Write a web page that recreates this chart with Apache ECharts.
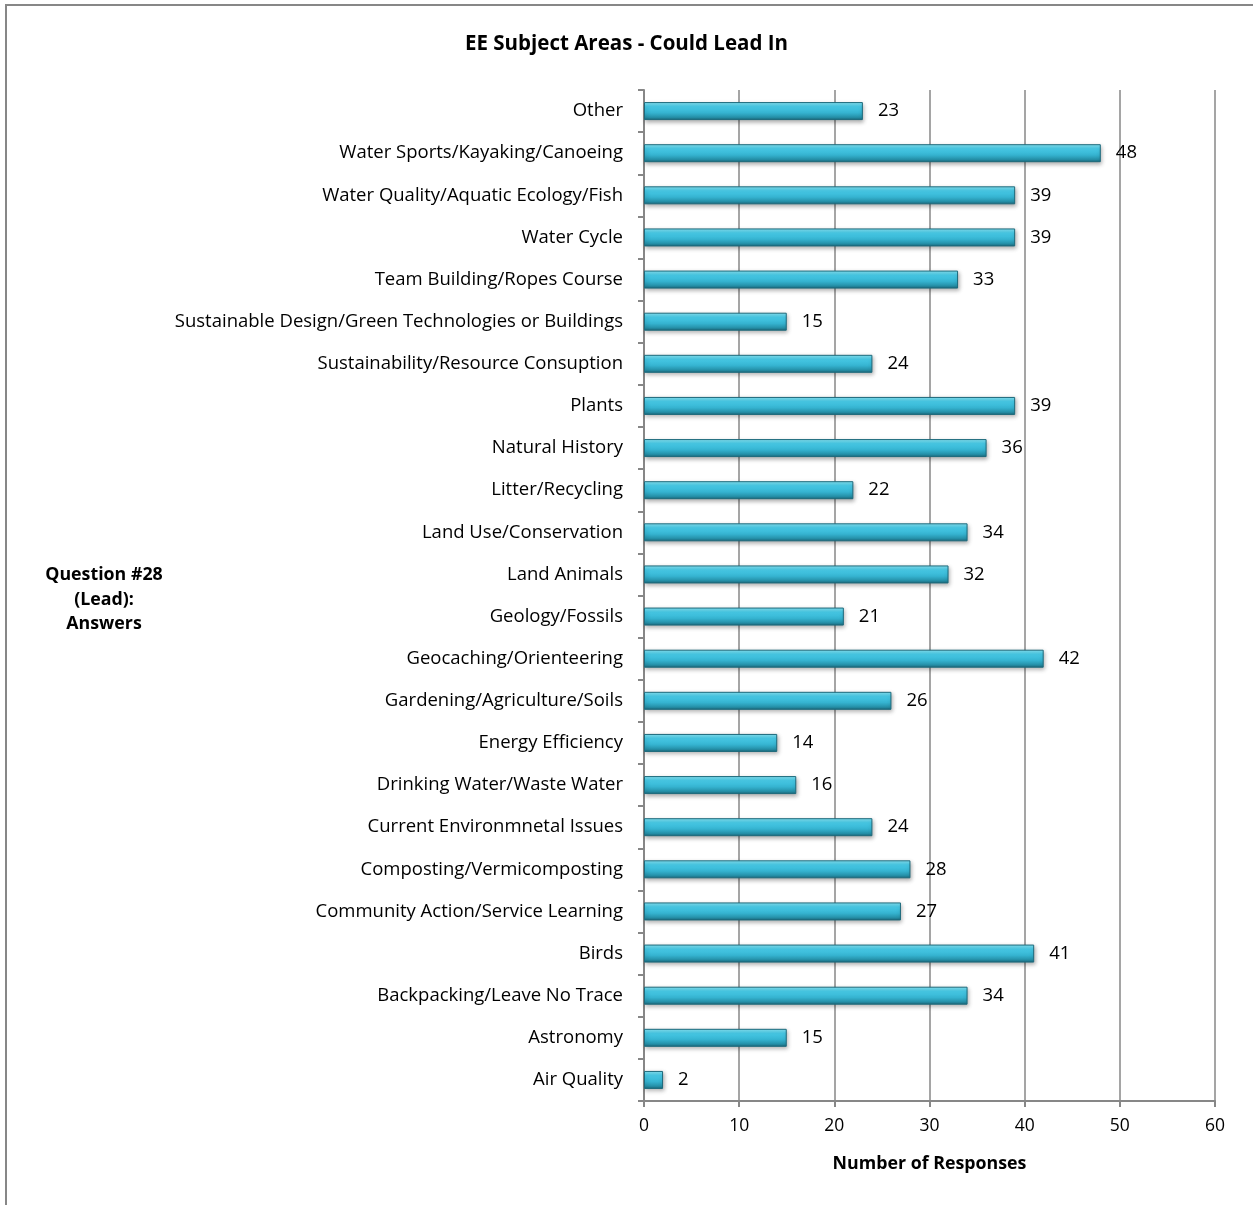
<!DOCTYPE html>
<html>
<head>
<meta charset="utf-8">
<script src="https://cdn.jsdelivr.net/npm/echarts@6/dist/echarts.min.js"></script>
<style>html,body{margin:0;padding:0;background:#fff}#c{width:1253px;height:1205px}</style>
</head>
<body>
<div id="c"></div>
<script>
// Categories listed bottom to top (ECharts category y-axis starts at bottom)
var categories = [
  "Air Quality", "Astronomy", "Backpacking/Leave No Trace", "Birds",
  "Community Action/Service Learning", "Composting/Vermicomposting",
  "Current Environmnetal Issues", "Drinking Water/Waste Water",
  "Energy Efficiency", "Gardening/Agriculture/Soils", "Geocaching/Orienteering",
  "Geology/Fossils", "Land Animals", "Land Use/Conservation", "Litter/Recycling",
  "Natural History", "Plants", "Sustainability/Resource Consuption",
  "Sustainable Design/Green Technologies or Buildings", "Team Building/Ropes Course",
  "Water Cycle", "Water Quality/Aquatic Ecology/Fish", "Water Sports/Kayaking/Canoeing",
  "Other"
];
var responses = [2, 15, 34, 41, 27, 28, 24, 16, 14, 26, 42, 21, 32, 34, 22, 36, 39, 24, 15, 33, 39, 39, 48, 23];
var xTicks = [0, 10, 20, 30, 40, 50, 60];

var FONT = "'Open Sans'";
var chart = echarts.init(document.getElementById('c'));
chart.setOption({
  animation: false,
  backgroundColor: '#fff',
  graphic: [
    { type: 'rect', shape: { x: 6, y: 5, width: 1300, height: 1300 }, style: { fill: 'none', stroke: '#878787', lineWidth: 2 } },
    { type: 'text', left: 'center', top: 34, style: { text: 'EE Subject Areas - Could Lead In', font: 'bold 20.5px ' + FONT, fill: '#000' } },
    { type: 'text', x: 104, y: 563, style: { text: 'Question #28\n(Lead):\nAnswers', font: 'bold 17.8px ' + FONT, fill: '#000', align: 'center', lineHeight: 24.5 } }
  ],
  grid: { left: 644, top: 90, width: 571, height: 1011, containLabel: false },
  xAxis: {
    type: 'value', min: 0, max: 60, interval: 10,
    name: 'Number of Responses', nameLocation: 'middle', nameGap: 54,
    nameTextStyle: { fontFamily: FONT, fontWeight: 'bold', fontSize: 17.8, color: '#000' },
    axisLine: { show: true, lineStyle: { color: '#878787', width: 2 } },
    axisTick: { show: true, length: 6, lineStyle: { color: '#878787', width: 2 } },
    axisLabel: { fontFamily: FONT, fontSize: 17.5, color: '#000', margin: 16,
      formatter: function (v) { return xTicks.indexOf(v) >= 0 ? String(v) : ''; } },
    splitLine: { show: true, lineStyle: { color: '#878787', width: 1.5 } }
  },
  yAxis: {
    type: 'category', data: categories,
    axisLine: { show: true, lineStyle: { color: '#878787', width: 2 } },
    axisTick: { show: true, length: 6, alignWithLabel: false, lineStyle: { color: '#878787', width: 2 } },
    axisLabel: { fontFamily: FONT, fontSize: 18.5, color: '#000', margin: 21, padding: [6, 0, 0, 0] },
    splitLine: { show: false }
  },
  series: [{
    type: 'bar', data: responses, barWidth: 18,
    itemStyle: {
      color: new echarts.graphic.LinearGradient(0, 0, 0, 1, [
        { offset: 0, color: '#8ae6f6' },
        { offset: 0.25, color: '#48cbe8' },
        { offset: 0.6, color: '#35b3d0' },
        { offset: 0.85, color: '#2590a8' },
        { offset: 1, color: '#1b6578' }
      ]),
      borderColor: '#1d6a7c', borderWidth: 1,
      shadowBlur: 4, shadowOffsetX: 1, shadowOffsetY: 2, shadowColor: 'rgba(0,0,0,0.3)'
    },
    label: { show: true, position: 'right', distance: 15, fontFamily: FONT, fontSize: 18.5, color: '#000', padding: [6, 0, 0, 0] }
  }]
});
</script>
</body>
</html>
